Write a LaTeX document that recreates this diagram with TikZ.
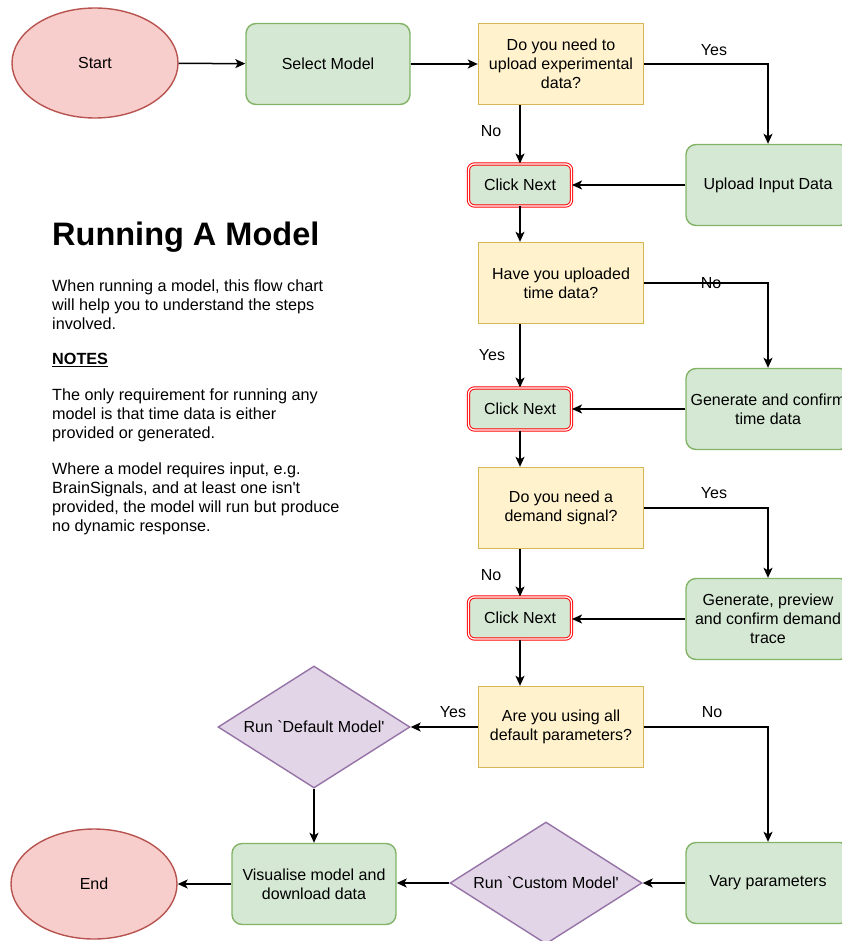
\documentclass[tikz,border=0pt]{standalone}
\usepackage{fontspec}
\setmainfont{Liberation Sans}
\usetikzlibrary{shapes.geometric,arrows.meta}
\definecolor{termfill}{HTML}{F8CECC}
\definecolor{termline}{HTML}{B85450}
\definecolor{procfill}{HTML}{D5E8D4}
\definecolor{procline}{HTML}{82B366}
\definecolor{decfill}{HTML}{FFF2CC}
\definecolor{decline}{HTML}{D6B656}
\definecolor{diafill}{HTML}{E1D5E7}
\definecolor{dialine}{HTML}{9673A6}
\definecolor{clickred}{HTML}{FF0000}
\begin{document}
\begin{tikzpicture}[x=1pt,y=-1pt,
  base/.style={font=\fontsize{16}{19}\selectfont, align=center, line width=1.4pt, inner sep=2pt},
  term/.style={base, ellipse, fill=termfill, draw=termline, minimum width=166, minimum height=110},
  proc/.style={base, rectangle, rounded corners=10pt, fill=procfill, draw=procline, minimum width=164, minimum height=81},
  decbox/.style={base, rectangle, fill=decfill, draw=decline, minimum width=165, minimum height=81},
  clickbox/.style={base, rectangle, rounded corners=6pt, fill=procfill, draw=clickred, line width=1pt, double=white, double distance=1.3pt, minimum width=103, minimum height=42},
  dia/.style={base, diamond, shape aspect=1.57, fill=diafill, draw=dialine, inner sep=0pt, minimum width=192, minimum height=122},
  arr/.style={line width=1.5pt, -{Stealth[length=10pt,width=9pt,inset=2.5pt]}},
  lbl/.style={font=\fontsize{16}{19}\selectfont, inner sep=0pt},
  para/.style={font=\fontsize{16.2}{19}\selectfont, align=left, anchor=north west, inner sep=0pt}
]
\useasboundingbox (0,0) rectangle (842,941);
\clip (0,0) rectangle (842,941);

% nodes
\node[term] (start) at (95,63) {Start};
\node[proc] (select) at (328,64) {Select Model};
\node[decbox] (q1) at (561,64) {Do you need to\\upload experimental\\data?};
\node[proc] (upload) at (768,185) {Upload Input Data};
\node[clickbox] (c1) at (520,185) {Click Next};
\node[decbox] (q2) at (561,283) {Have you uploaded\\time data?};
\node[proc] (gentime) at (768,409) {Generate and confirm\\time data};
\node[clickbox] (c2) at (520,409) {Click Next};
\node[decbox] (q3) at (561,508) {Do you need a\\demand signal?};
\node[proc] (gendem) at (768,619) {Generate, preview\\and confirm demand\\trace};
\node[clickbox] (c3) at (520,618) {Click Next};
\node[decbox] (q4) at (561,727) {Are you using all\\default parameters?};
\node[dia] (def) at (314,727) {Run \textasciigrave Default Model\textquotesingle};
\node[proc] (vary) at (768,883) {Vary parameters};
\node[dia] (custom) at (546,883) {Run \textasciigrave Custom Model\textquotesingle};
\node[proc] (vis) at (314,884) {Visualise model and\\download data};
\node[term] (end) at (94,884) {End};

% text
\node[para, font=\fontsize{32.5}{36}\selectfont\bfseries] (title) at (52,222) {Running A Model};
\node[para] (p1) at (52,280) {When running a model, this flow chart\\will help you to understand the steps\\involved.};
\node[para, font=\fontsize{16.2}{19}\selectfont\bfseries] (notes) at (52,353) {\underline{NOTES}};
\node[para] (p2) at (52,389) {The only requirement for running any\\model is that time data is either\\provided or generated.};
\node[para] (p3) at (52,463) {Where a model requires input, e.g.\\BrainSignals, and at least one isn\textquotesingle t\\provided, the model will run but produce\\no dynamic response.};

% connectors
\draw[arr] (start) -- (select);
\draw[arr] (select) -- (q1);
\draw[arr] (q1.east) -| (upload.north);
\draw[arr] (q1.south -| c1) -- (c1);
\draw[arr] (upload) -- (c1);
\draw[arr] (c1) -- (c1 |- q2.north);
\draw[arr] (q2.east) -| (gentime.north);
\draw[arr] (q2.south -| c2) -- (c2);
\draw[arr] (gentime) -- (c2);
\draw[arr] (c2) -- (c2 |- q3.north);
\draw[arr] (q3.east) -| (gendem.north);
\draw[arr] (q3.south -| c3) -- (c3);
\draw[arr] (gendem.west) -- (gendem.west -| c3.east);
\draw[arr] (c3) -- (c3 |- q4.north);
\draw[arr] (q4.west) -- (def.east);
\draw[arr] (q4.east) -| (vary.north);
\draw[arr] (def) -- (vis);
\draw[arr] (vary) -- (custom);
\draw[arr] (custom.west) -- (custom.west -| vis.east);
\draw[arr] (vis.west) -- (vis.west -| end.east);

% labels
\node[lbl] (l1) at (714,50) {Yes};
\node[lbl] (l2) at (491,131) {No};
\node[lbl] (l3) at (711,283) {No};
\node[lbl] (l4) at (492,355) {Yes};
\node[lbl] (l5) at (714,493) {Yes};
\node[lbl] (l6) at (491,575) {No};
\node[lbl] (l7) at (453,712) {Yes};
\node[lbl] (l8) at (712,712) {No};
\end{tikzpicture}
\end{document}
